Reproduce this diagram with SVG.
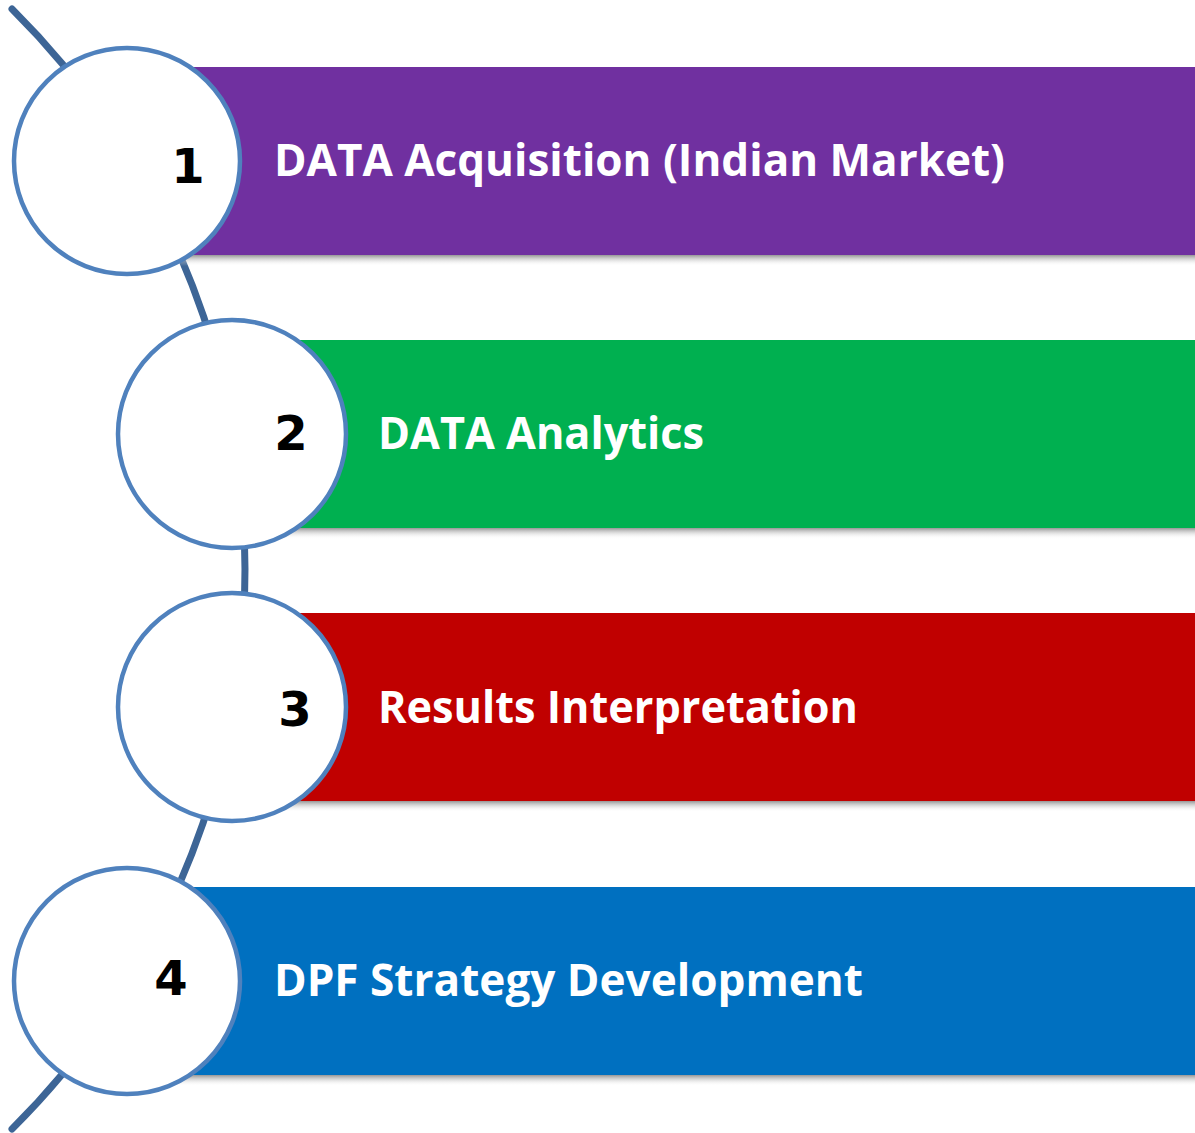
<svg xmlns="http://www.w3.org/2000/svg" width="1195" height="1133" viewBox="0 0 1195 1133">
  <defs>
    <linearGradient id="shadow" x1="0" y1="0" x2="0" y2="1">
      <stop offset="0" stop-color="#8a8a8a" stop-opacity="0.9"/>
      <stop offset="1" stop-color="#ffffff" stop-opacity="0"/>
    </linearGradient>
    <style>
      .arc { fill: none; stroke: #3D6596; stroke-width: 7; stroke-linecap: round; }
      .ring { fill: #ffffff; stroke: #4F81BD; stroke-width: 4.5; }
      .num { font-family: "DejaVu Sans", "Liberation Sans", sans-serif; font-weight: bold; font-size: 48px; fill: #000000; text-anchor: middle; }
      .label { font-family: "Open Sans", "Liberation Sans", sans-serif; font-weight: bold; font-size: 45px; fill: #ffffff; }
      .shadow { fill: url(#shadow); }
    </style>
  </defs>
  <rect width="1195" height="1133" fill="#ffffff"/>

  <g id="connectors">
    <path class="arc" d="M 12 9 A 789.5 789.5 0 0 1 12 1129"/>
  </g>

  <g id="step1">
    <rect class="shadow" x="127" y="255" width="1068" height="11"/>
    <rect x="127" y="67" width="1068" height="188" fill="#7030A0"/>
    <circle class="ring" cx="127" cy="161" r="113"/>
    <text class="num" x="188" y="183">1</text>
    <text class="label" x="274" y="176" textLength="731" lengthAdjust="spacingAndGlyphs">DATA Acquisition (Indian Market)</text>
  </g>

  <g id="step2">
    <rect class="shadow" x="232" y="528" width="963" height="11"/>
    <rect x="232" y="340" width="963" height="188" fill="#00B050"/>
    <circle class="ring" cx="232" cy="434" r="114"/>
    <text class="num" x="291" y="450">2</text>
    <text class="label" x="378" y="449" textLength="326" lengthAdjust="spacingAndGlyphs">DATA Analytics</text>
  </g>

  <g id="step3">
    <rect class="shadow" x="232" y="801" width="963" height="11"/>
    <rect x="232" y="613" width="963" height="188" fill="#C00000"/>
    <circle class="ring" cx="232" cy="707" r="114"/>
    <text class="num" x="295" y="726">3</text>
    <text class="label" x="378" y="723" textLength="480" lengthAdjust="spacingAndGlyphs">Results Interpretation</text>
  </g>

  <g id="step4">
    <rect class="shadow" x="127" y="1075" width="1068" height="11"/>
    <rect x="127" y="887" width="1068" height="188" fill="#0070C0"/>
    <circle class="ring" cx="127" cy="981" r="113"/>
    <text class="num" x="171" y="995">4</text>
    <text class="label" x="274" y="996" textLength="589" lengthAdjust="spacingAndGlyphs">DPF Strategy Development</text>
  </g>
</svg>
